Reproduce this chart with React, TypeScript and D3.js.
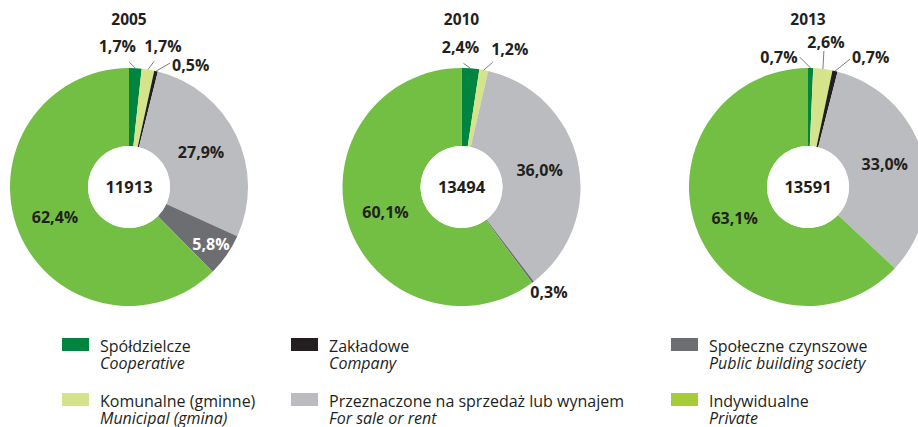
import * as d3 from "d3";

// housing completions by type of investor, share of dwellings (%)
const YEARS = ["2005", "2010", "2013"];
const TOTALS = [11913, 13494, 13591];

const TYPES_PL = [
  "Spółdzielcze",
  "Komunalne (gminne)",
  "Zakładowe",
  "Przeznaczone na sprzedaż lub wynajem",
  "Społeczne czynszowe",
  "Indywidualne",
];
const TYPES_EN = [
  "Cooperative",
  "Municipal (gmina)",
  "Company",
  "For sale or rent",
  "Public building society",
  "Private",
];

const SHARE_2005 = [1.7, 1.7, 0.5, 27.9, 5.8, 62.4];
const SHARE_2010 = [2.4, 1.2, 0, 36.0, 0.3, 60.1];
const SHARE_2013 = [0.7, 2.6, 0.7, 33.0, 0, 63.1];
const SHARES = [SHARE_2005, SHARE_2010, SHARE_2013];

const PIE_COLORS = ["#00843f", "#d5e38b", "#231f20", "#bbbcbf", "#6d6e71", "#72bf44"];
const LEGEND_COLORS = ["#00843f", "#d5e38b", "#231f20", "#bbbcbf", "#6d6e71", "#a5cd39"];

// layout
const W = 918;
const H = 427;
const CENTERS = [129, 461.5, 808];
const CY = 187;
const R_OUT = 119;
const R_IN = 41;
const FONT = "'Open Sans', 'DejaVu Sans', sans-serif";
const INK = "#231f20";
const LABEL_SIZE = 16;

// small slices get an outside label: leader end offset from the arc edge, text offset from leader end
type Callout = { lx: number; ly: number; tx: number; ty: number; anchor: string; leader: boolean };
const CALLOUTS: Record<string, Callout>[] = [
  {
    0: { lx: -6, ly: -6, tx: -12, ty: -10, anchor: "middle", leader: true },
    1: { lx: 6, ly: -8, tx: 9, ty: -10, anchor: "middle", leader: true },
    2: { lx: 14, ly: -8, tx: 2, ty: 8, anchor: "start", leader: true },
  },
  {
    0: { lx: -7, ly: -5, tx: -3, ty: -10, anchor: "middle", leader: true },
    1: { lx: 9, ly: -8, tx: 17, ty: -7, anchor: "middle", leader: true },
    4: { lx: 0, ly: 0, tx: 16, ty: 16, anchor: "middle", leader: false },
  },
  {
    0: { lx: -11, ly: -11, tx: -2, ty: 6, anchor: "end", leader: true },
    1: { lx: 1, ly: -18, tx: 2, ty: -3, anchor: "middle", leader: true },
    2: { lx: 15, ly: -12, tx: 2, ty: 4, anchor: "start", leader: true },
  },
];

const fmt = (v: number) => v.toFixed(1).replace(".", ",") + "%";

const pie = d3
  .pie<number>()
  .sort(null)
  .value((d) => d)
  .startAngle(0)
  .endAngle(2 * Math.PI);

const arc = d3.arc<d3.PieArcDatum<number>>().innerRadius(R_IN).outerRadius(R_OUT);

const Donut = ({ index }: { index: number }) => {
  const cx = CENTERS[index];
  const arcs = pie(SHARES[index]);
  const callouts = CALLOUTS[index];
  return (
    <g transform={`translate(${cx},${CY})`}>
      <text
        y={-162}
        textAnchor="middle"
        fontFamily={FONT}
        fontWeight={700}
        fontSize={15.5}
        fill={INK}
      >
        {YEARS[index]}
      </text>
      {arcs.map((a, i) =>
        a.value > 0 ? <path key={i} d={arc(a) || ""} fill={PIE_COLORS[i]} /> : null
      )}
      <circle r={R_IN} fill="#fff" />
      <text
        y={6}
        textAnchor="middle"
        fontFamily={FONT}
        fontWeight={700}
        fontSize={16.5}
        fill={INK}
      >
        {TOTALS[index]}
      </text>
      {arcs.map((a, i) => {
        if (a.value <= 0) return null;
        const mid = (a.startAngle + a.endAngle) / 2;
        const sx = Math.sin(mid);
        const sy = -Math.cos(mid);
        const c = callouts[i];
        if (c) {
          const ax = sx * R_OUT;
          const ay = sy * R_OUT;
          const ex = ax + c.lx;
          const ey = ay + c.ly;
          return (
            <g key={i}>
              {c.leader && (
                <line x1={ax} y1={ay} x2={ex} y2={ey} stroke="#6d6e71" strokeWidth={0.9} />
              )}
              <text
                x={ex + c.tx}
                y={ey + c.ty}
                textAnchor={c.anchor}
                fontFamily={FONT}
                fontWeight={700}
                fontSize={LABEL_SIZE}
                fill={INK}
              >
                {fmt(a.value)}
              </text>
            </g>
          );
        }
        const r = a.value < 10 ? 100 : 80;
        return (
          <text
            key={i}
            x={sx * r}
            y={sy * r}
            dy="0.35em"
            textAnchor="middle"
            fontFamily={FONT}
            fontWeight={700}
            fontSize={LABEL_SIZE}
            fill={i === 4 ? "#fff" : INK}
          >
            {fmt(a.value)}
          </text>
        );
      })}
    </g>
  );
};

// legend: three columns, two rows
const LEGEND_COLS = [62, 291, 671];
const LEGEND_ROWS = [338, 393];
const LEGEND_ORDER = [
  [0, 1],
  [2, 3],
  [4, 5],
];

const Legend = () => (
  <g fontFamily={FONT} fontSize={16} fill={INK}>
    {LEGEND_ORDER.map((col, ci) =>
      col.map((t, ri) => {
        const x = LEGEND_COLS[ci];
        const y = LEGEND_ROWS[ri];
        return (
          <g key={t} transform={`translate(${x},${y})`}>
            <rect width={27} height={13} fill={LEGEND_COLORS[t]} />
            <text x={38} y={14}>
              {TYPES_PL[t]}
            </text>
            <text x={38} y={31} fontStyle="italic">
              {TYPES_EN[t]}
            </text>
          </g>
        );
      })
    )}
  </g>
);

export default function App() {
  return (
    <svg
      width={W}
      height={H}
      viewBox={`0 0 ${W} ${H}`}
      style={{ position: "absolute", left: 0, top: 0, background: "#fff" }}
    >
      {YEARS.map((_, i) => (
        <Donut key={i} index={i} />
      ))}
      <Legend />
    </svg>
  );
}
